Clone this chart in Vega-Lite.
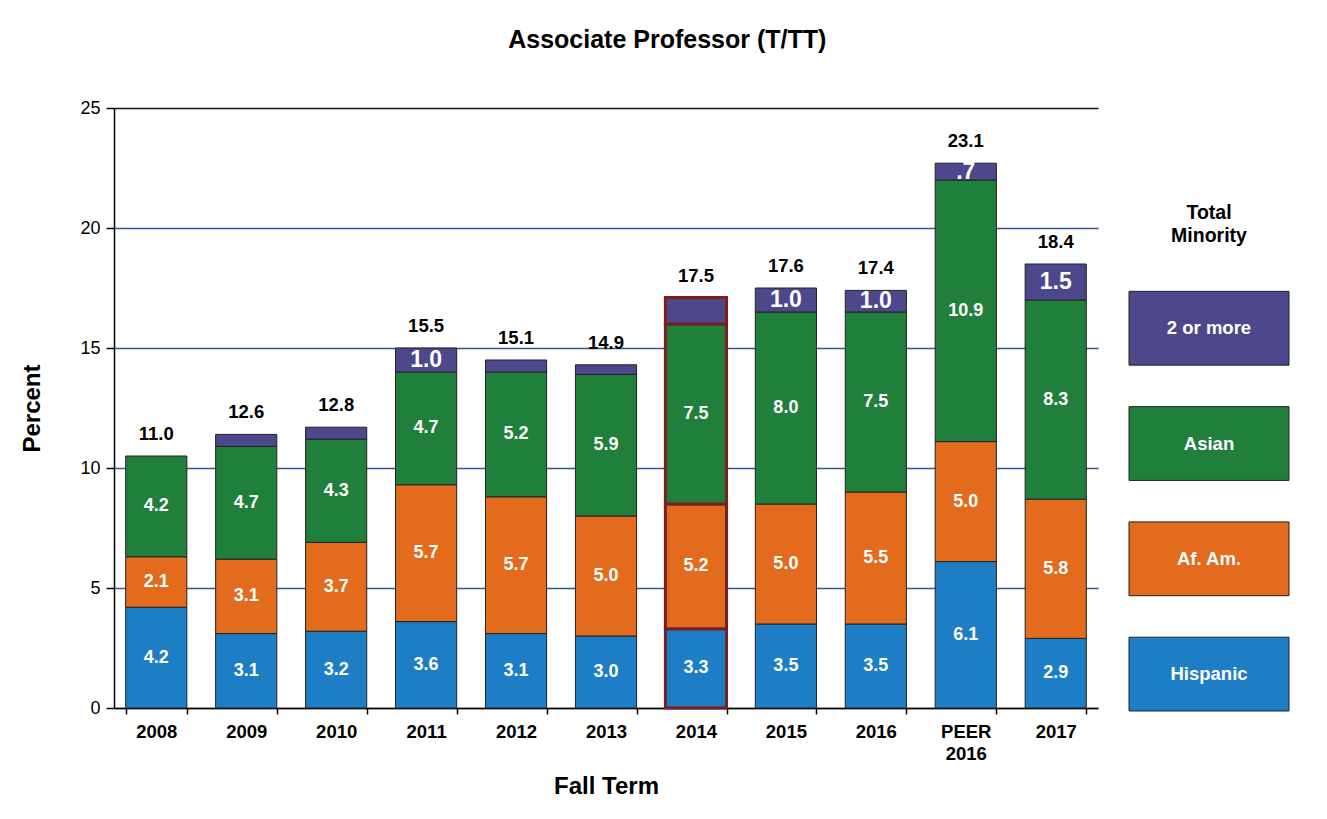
{
  "$schema": "https://vega.github.io/schema/vega-lite/v6.json",
  "background": "white",
  "padding": {"left": 20, "top": 28, "right": 20, "bottom": 20},
  "title": {"text": "Associate Professor (T/TT)", "fontSize": 25, "fontWeight": "bold", "anchor": "middle", "offset": 46, "dx": 12, "color": "black"},
  "config": {"font": "Liberation Sans", "view": {"stroke": null}},
  "bounds": "flush",
  "spacing": 31,
  "datasets": {
    "bars": [
      {"year": "2008", "group": "Hispanic", "ord": 1, "value": 4.2, "label": "4.2", "total": 11.0},
      {"year": "2008", "group": "Af. Am.", "ord": 2, "value": 2.1, "label": "2.1", "total": 11.0},
      {"year": "2008", "group": "Asian", "ord": 3, "value": 4.2, "label": "4.2", "total": 11.0},
      {"year": "2009", "group": "Hispanic", "ord": 1, "value": 3.1, "label": "3.1", "total": 12.6},
      {"year": "2009", "group": "Af. Am.", "ord": 2, "value": 3.1, "label": "3.1", "total": 12.6},
      {"year": "2009", "group": "Asian", "ord": 3, "value": 4.7, "label": "4.7", "total": 12.6},
      {"year": "2009", "group": "2 or more", "ord": 4, "value": 0.5, "label": "", "total": 12.6},
      {"year": "2010", "group": "Hispanic", "ord": 1, "value": 3.2, "label": "3.2", "total": 12.8},
      {"year": "2010", "group": "Af. Am.", "ord": 2, "value": 3.7, "label": "3.7", "total": 12.8},
      {"year": "2010", "group": "Asian", "ord": 3, "value": 4.3, "label": "4.3", "total": 12.8},
      {"year": "2010", "group": "2 or more", "ord": 4, "value": 0.5, "label": "", "total": 12.8},
      {"year": "2011", "group": "Hispanic", "ord": 1, "value": 3.6, "label": "3.6", "total": 15.5},
      {"year": "2011", "group": "Af. Am.", "ord": 2, "value": 5.7, "label": "5.7", "total": 15.5},
      {"year": "2011", "group": "Asian", "ord": 3, "value": 4.7, "label": "4.7", "total": 15.5},
      {"year": "2011", "group": "2 or more", "ord": 4, "value": 1.0, "label": "1.0", "total": 15.5},
      {"year": "2012", "group": "Hispanic", "ord": 1, "value": 3.1, "label": "3.1", "total": 15.1},
      {"year": "2012", "group": "Af. Am.", "ord": 2, "value": 5.7, "label": "5.7", "total": 15.1},
      {"year": "2012", "group": "Asian", "ord": 3, "value": 5.2, "label": "5.2", "total": 15.1},
      {"year": "2012", "group": "2 or more", "ord": 4, "value": 0.5, "label": "", "total": 15.1},
      {"year": "2013", "group": "Hispanic", "ord": 1, "value": 3.0, "label": "3.0", "total": 14.9},
      {"year": "2013", "group": "Af. Am.", "ord": 2, "value": 5.0, "label": "5.0", "total": 14.9},
      {"year": "2013", "group": "Asian", "ord": 3, "value": 5.9, "label": "5.9", "total": 14.9},
      {"year": "2013", "group": "2 or more", "ord": 4, "value": 0.4, "label": "", "total": 14.9},
      {"year": "2014", "group": "Hispanic", "ord": 1, "value": 3.3, "label": "3.3", "total": 17.5},
      {"year": "2014", "group": "Af. Am.", "ord": 2, "value": 5.2, "label": "5.2", "total": 17.5},
      {"year": "2014", "group": "Asian", "ord": 3, "value": 7.5, "label": "7.5", "total": 17.5},
      {"year": "2014", "group": "2 or more", "ord": 4, "value": 1.1, "label": "", "total": 17.5},
      {"year": "2015", "group": "Hispanic", "ord": 1, "value": 3.5, "label": "3.5", "total": 17.6},
      {"year": "2015", "group": "Af. Am.", "ord": 2, "value": 5.0, "label": "5.0", "total": 17.6},
      {"year": "2015", "group": "Asian", "ord": 3, "value": 8.0, "label": "8.0", "total": 17.6},
      {"year": "2015", "group": "2 or more", "ord": 4, "value": 1.0, "label": "1.0", "total": 17.6},
      {"year": "2016", "group": "Hispanic", "ord": 1, "value": 3.5, "label": "3.5", "total": 17.4},
      {"year": "2016", "group": "Af. Am.", "ord": 2, "value": 5.5, "label": "5.5", "total": 17.4},
      {"year": "2016", "group": "Asian", "ord": 3, "value": 7.5, "label": "7.5", "total": 17.4},
      {"year": "2016", "group": "2 or more", "ord": 4, "value": 0.9, "label": "1.0", "total": 17.4},
      {"year": "PEER 2016", "group": "Hispanic", "ord": 1, "value": 6.1, "label": "6.1", "total": 23.1},
      {"year": "PEER 2016", "group": "Af. Am.", "ord": 2, "value": 5.0, "label": "5.0", "total": 23.1},
      {"year": "PEER 2016", "group": "Asian", "ord": 3, "value": 10.9, "label": "10.9", "total": 23.1},
      {"year": "PEER 2016", "group": "2 or more", "ord": 4, "value": 0.7, "label": ".7", "total": 23.1},
      {"year": "2017", "group": "Hispanic", "ord": 1, "value": 2.9, "label": "2.9", "total": 18.4},
      {"year": "2017", "group": "Af. Am.", "ord": 2, "value": 5.8, "label": "5.8", "total": 18.4},
      {"year": "2017", "group": "Asian", "ord": 3, "value": 8.3, "label": "8.3", "total": 18.4},
      {"year": "2017", "group": "2 or more", "ord": 4, "value": 1.5, "label": "1.5", "total": 18.4}
    ],
    "legend": [
      {"item": "Total Minority", "text": "Total\nMinority"},
      {"item": "2 or more", "text": "2 or more"},
      {"item": "Asian", "text": "Asian"},
      {"item": "Af. Am.", "text": "Af. Am."},
      {"item": "Hispanic", "text": "Hispanic"}
    ]
  },
  "hconcat": [
    {
      "width": 984,
      "height": 600,
      "data": {"name": "bars"},
      "encoding": {
        "x": {
          "field": "year",
          "type": "nominal",
          "sort": ["2008", "2009", "2010", "2011", "2012", "2013", "2014", "2015", "2016", "PEER 2016", "2017"],
          "scale": {"paddingInner": 0.32, "paddingOuter": 0.13},
          "axis": {
            "title": "Fall Term",
            "titleFontSize": 24,
            "titleFontWeight": "bold",
            "titleColor": "black",
            "titlePadding": 12,
            "labelFontSize": 18.5,
            "labelFontWeight": "bold",
            "labelColor": "black",
            "labelAngle": 0,
            "labelExpr": "split(datum.label, ' ')",
            "labelLineHeight": 22,
            "labelPadding": 8,
            "tickBand": "extent",
            "tickSize": 6,
            "tickColor": "black",
            "tickWidth": 1.5,
            "domainColor": "black",
            "domainWidth": 1.5
          }
        }
      },
      "layer": [
        {
          "mark": {"type": "bar"},
          "encoding": {
            "y": {
              "field": "value",
              "type": "quantitative",
              "stack": "zero",
              "scale": {"domain": [0, 25], "nice": false},
              "axis": {
                "values": [0, 5, 10, 15, 20, 25],
                "title": "Percent",
                "titleFontSize": 24,
                "titleFontWeight": "bold",
                "titleColor": "black",
                "titlePadding": 35,
                "labelFontSize": 18,
                "labelColor": "black",
                "labelPadding": 6,
                "tickSize": 8,
                "tickColor": "black",
                "tickWidth": 1.5,
                "domainColor": "black",
                "domainWidth": 1.5,
                "grid": true,
                "gridColor": {"condition": {"test": "datum.value === 25", "value": "#111111"}, "value": "#3b5688"},
                "gridWidth": 1.5
              }
            },
            "color": {
              "field": "group",
              "type": "nominal",
              "scale": {"domain": ["Hispanic", "Af. Am.", "Asian", "2 or more"], "range": ["#1d7ec6", "#e26b1d", "#1f7f3b", "#4d478c"]},
              "legend": null
            },
            "order": {"field": "ord", "type": "quantitative"},
            "stroke": {"condition": {"test": "datum.year === '2014'", "value": "#7a1f1f"}, "value": "#222222"},
            "strokeWidth": {"condition": {"test": "datum.year === '2014'", "value": 3}, "value": 1}
          }
        },
        {
          "transform": [
            {"window": [{"op": "sum", "field": "value", "as": "cum"}], "groupby": ["year"], "sort": [{"field": "ord"}], "frame": [null, 0]},
            {"calculate": "datum.cum - datum.value / 2", "as": "mid"}
          ],
          "mark": {"type": "text", "fontWeight": "bold", "color": "white", "baseline": "middle"},
          "encoding": {
            "y": {"field": "mid", "type": "quantitative"},
            "text": {"field": "label"},
            "size": {"condition": {"test": "datum.group === '2 or more'", "value": 23}, "value": 18}
          }
        },
        {
          "transform": [{"aggregate": [{"op": "sum", "field": "value", "as": "top"}], "groupby": ["year", "total"]}],
          "mark": {"type": "text", "fontWeight": "bold", "fontSize": 18.5, "dy": -22, "baseline": "middle", "color": "black"},
          "encoding": {
            "y": {"field": "top", "type": "quantitative"},
            "text": {"field": "total", "type": "quantitative", "format": ".1f"}
          }
        }
      ]
    },
    {
      "width": 160,
      "height": 620,
      "data": {"name": "legend"},
      "encoding": {
        "y": {
          "field": "item",
          "type": "nominal",
          "sort": ["Total Minority", "2 or more", "Asian", "Af. Am.", "Hispanic"],
          "scale": {"paddingInner": 0.36, "paddingOuter": 0.369, "align": 0.8},
          "axis": null
        }
      },
      "layer": [
        {
          "transform": [{"filter": "datum.item !== 'Total Minority'"}],
          "mark": {"type": "rect", "stroke": "#222222", "strokeWidth": 1},
          "encoding": {
            "color": {"field": "item", "type": "nominal", "legend": null}
          }
        },
        {
          "mark": {"type": "text", "fontWeight": "bold", "baseline": "middle", "lineBreak": "\n", "lineHeight": 23},
          "encoding": {
            "text": {"field": "text"},
            "color": {"condition": {"test": "datum.item === 'Total Minority'", "value": "black"}, "value": "white"},
            "size": {"condition": {"test": "datum.item === 'Total Minority'", "value": 19.5}, "value": 18.5}
          }
        }
      ]
    }
  ]
}
